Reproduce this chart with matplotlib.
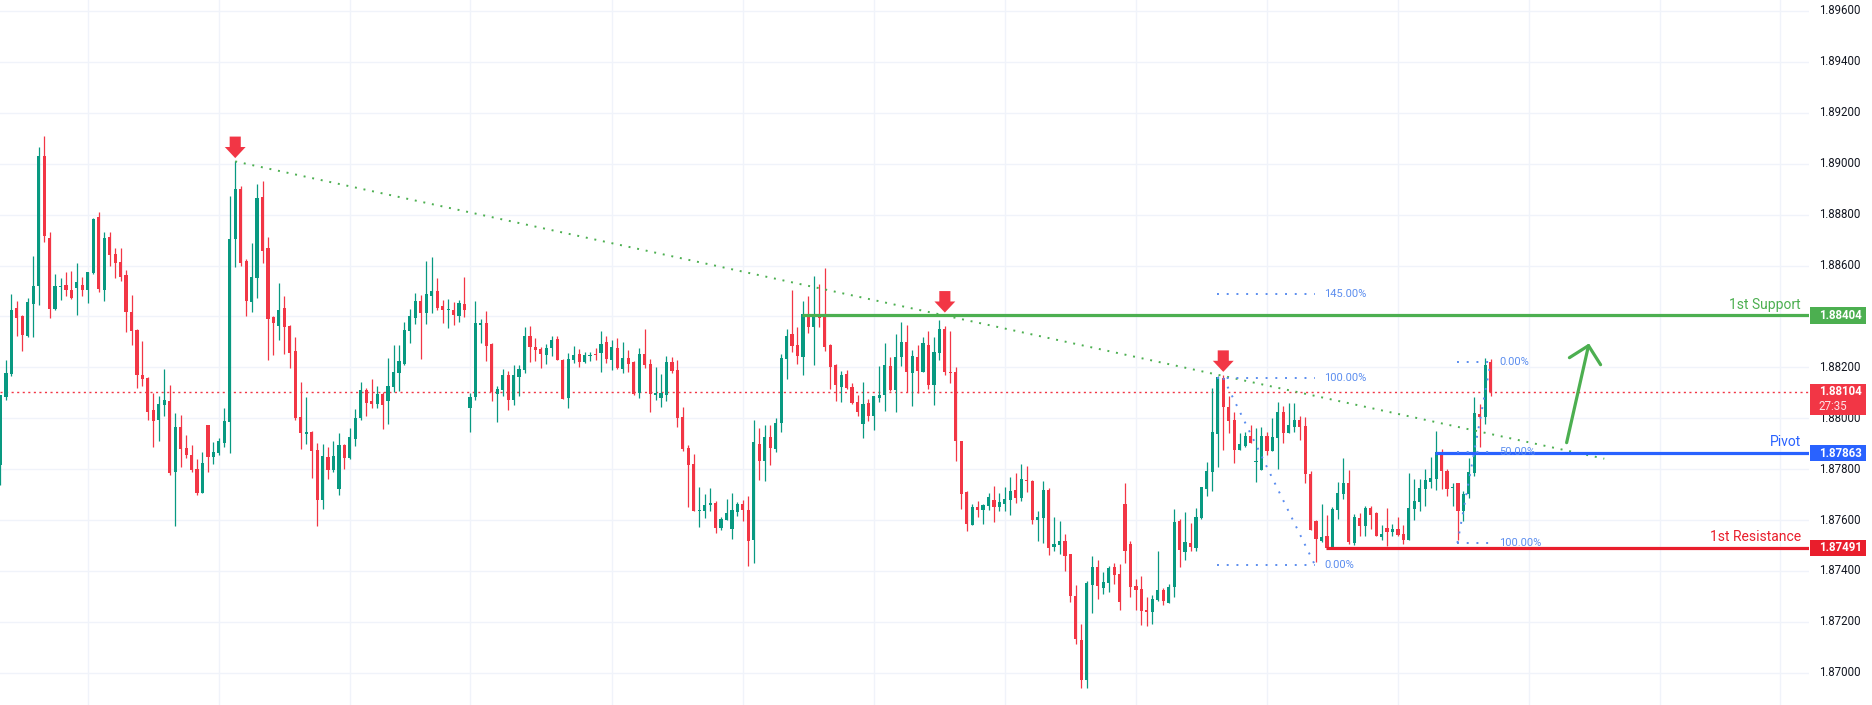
import matplotlib
matplotlib.use('Agg')
import matplotlib.pyplot as plt
from matplotlib.patches import Rectangle
import numpy as np

plt.rcParams['font.family'] = ['Roboto', 'DejaVu Sans']

# hourly candles
opens = [
    1.87815, 1.88083, 1.88172, 1.88435, 1.88400, 1.88324, 1.88448, 1.88518, 1.89032, 1.88710,
    1.88431, 1.88515, 1.88525, 1.88502, 1.88510, 1.88525, 1.88502, 1.88569, 1.88790, 1.88502,
    1.88714, 1.88647, 1.88612, 1.88561, 1.88419, 1.88345, 1.88170, 1.88157, 1.88034, 1.87992,
    1.88051, 1.88067, 1.87788, 1.87967, 1.87882, 1.87855, 1.87800, 1.87705, 1.87975, 1.87847,
    1.87862, 1.87902, 1.87984, 1.88704, 1.88900, 1.88616, 1.88456, 1.88550, 1.88871, 1.88667,
    1.88397, 1.88362, 1.88435, 1.88362, 1.88263, 1.88003, 1.87937, 1.87945, 1.87874, 1.87678,
    1.87847, 1.87796, 1.87721, 1.87894, 1.87843, 1.87918, 1.87999, 1.88110, 1.88067, 1.88055,
    1.88094, 1.88067, 1.88122, 1.88177, 1.88212, 1.88342, 1.88393, 1.88460, 1.88413, 1.88480,
    1.88499, 1.88440, 1.88424, 1.88424, 1.88401, 1.88448, 1.88039, 1.88083, 1.88366, 1.88373,
    1.88291, 1.88094, 1.88110, 1.88169, 1.88071, 1.88161, 1.88189, 1.88322, 1.88279, 1.88271,
    1.88248, 1.88275, 1.88310, 1.88228, 1.88079, 1.88228, 1.88252, 1.88220, 1.88244, 1.88252,
    1.88255, 1.88299, 1.88228, 1.88275, 1.88195, 1.88235, 1.88219, 1.88101, 1.88254, 1.88215,
    1.88093, 1.88081, 1.88093, 1.88219, 1.88191, 1.88004, 1.87882, 1.87819, 1.87635, 1.87635,
    1.87658, 1.87666, 1.87568, 1.87599, 1.87564, 1.87631, 1.87662, 1.87639, 1.87521, 1.87898,
    1.87831, 1.87925, 1.87878, 1.87980, 1.88231, 1.88329, 1.88287, 1.88242, 1.88405, 1.88358,
    1.88405, 1.88397, 1.88287, 1.88211, 1.88124, 1.88172, 1.88121, 1.88062, 1.87976, 1.88058,
    1.88008, 1.88081, 1.88093, 1.88207, 1.88109, 1.88242, 1.88301, 1.88176, 1.88242, 1.88183,
    1.88286, 1.88132, 1.88258, 1.88352, 1.88183, 1.88180, 1.87912, 1.87709, 1.87580, 1.87650,
    1.87639, 1.87654, 1.87678, 1.87650, 1.87662, 1.87678, 1.87717, 1.87686, 1.87756, 1.87752,
    1.87599, 1.87607, 1.87717, 1.87493, 1.87501, 1.87517, 1.87466, 1.87300, 1.87128, 1.86970,
    1.87344, 1.87414, 1.87332, 1.87352, 1.87414, 1.87387, 1.87662, 1.87505, 1.87340, 1.87328,
    1.87245, 1.87238, 1.87285, 1.87324, 1.87273, 1.87336, 1.87595, 1.87473, 1.87509, 1.87489,
    1.87607, 1.87721, 1.87788, 1.87937, 1.88160, 1.88046, 1.87992, 1.87874, 1.87890, 1.87929,
    1.87827, 1.87796, 1.87929, 1.87870, 1.87921, 1.88026, 1.87941, 1.87965, 1.87992, 1.87969,
    1.87780, 1.87595, 1.87517, 1.87536, 1.87489, 1.87639, 1.87701, 1.87747, 1.87509, 1.87607,
    1.87576, 1.87646, 1.87627, 1.87532, 1.87568, 1.87552, 1.87564, 1.87544, 1.87521, 1.87642,
    1.87670, 1.87721, 1.87749, 1.87760, 1.87866, 1.87792, 1.87725, 1.87745, 1.87635, 1.87701,
    1.87784, 1.88016, 1.88004, 1.88220,
]
highs = [
    1.88093, 1.88227, 1.88490, 1.88462, 1.88407, 1.88474, 1.88639, 1.89064, 1.89107, 1.88730,
    1.88565, 1.88549, 1.88573, 1.88580, 1.88608, 1.88553, 1.88573, 1.88786, 1.88812, 1.88730,
    1.88730, 1.88667, 1.88667, 1.88584, 1.88486, 1.88352, 1.88305, 1.88161, 1.88098, 1.88087,
    1.88193, 1.88130, 1.88020, 1.88012, 1.87936, 1.87894, 1.87839, 1.87866, 1.87975, 1.87906,
    1.87921, 1.88039, 1.88875, 1.89009, 1.88911, 1.88624, 1.88690, 1.88920, 1.88931, 1.88711,
    1.88401, 1.88531, 1.88480, 1.88366, 1.88318, 1.88142, 1.88083, 1.87949, 1.87902, 1.87898,
    1.87886, 1.87910, 1.87941, 1.87898, 1.87961, 1.88035, 1.88142, 1.88118, 1.88153, 1.88126,
    1.88102, 1.88236, 1.88287, 1.88287, 1.88377, 1.88428, 1.88491, 1.88483, 1.88617, 1.88633,
    1.88550, 1.88464, 1.88468, 1.88456, 1.88464, 1.88554, 1.88098, 1.88460, 1.88389, 1.88420,
    1.88295, 1.88126, 1.88193, 1.88185, 1.88208, 1.88208, 1.88358, 1.88362, 1.88314, 1.88279,
    1.88291, 1.88322, 1.88322, 1.88232, 1.88255, 1.88283, 1.88271, 1.88259, 1.88259, 1.88275,
    1.88342, 1.88322, 1.88307, 1.88314, 1.88301, 1.88270, 1.88223, 1.88274, 1.88352, 1.88231,
    1.88203, 1.88172, 1.88246, 1.88242, 1.88227, 1.88043, 1.87894, 1.87859, 1.87729, 1.87701,
    1.87725, 1.87674, 1.87611, 1.87682, 1.87705, 1.87670, 1.87678, 1.87694, 1.87992, 1.87961,
    1.87973, 1.87973, 1.88000, 1.88252, 1.88350, 1.88503, 1.88358, 1.88460, 1.88480, 1.88558,
    1.88527, 1.88590, 1.88291, 1.88215, 1.88187, 1.88191, 1.88140, 1.88093, 1.88144, 1.88077,
    1.88089, 1.88207, 1.88294, 1.88242, 1.88329, 1.88380, 1.88368, 1.88270, 1.88286, 1.88321,
    1.88341, 1.88321, 1.88384, 1.88364, 1.88341, 1.88203, 1.87912, 1.87713, 1.87662, 1.87674,
    1.87662, 1.87705, 1.87733, 1.87705, 1.87729, 1.87768, 1.87784, 1.87819, 1.87811, 1.87756,
    1.87635, 1.87752, 1.87725, 1.87611, 1.87595, 1.87544, 1.87466, 1.87344, 1.87190, 1.87359,
    1.87458, 1.87442, 1.87395, 1.87418, 1.87430, 1.87426, 1.87745, 1.87517, 1.87367, 1.87379,
    1.87297, 1.87304, 1.87477, 1.87332, 1.87348, 1.87642, 1.87603, 1.87631, 1.87587, 1.87646,
    1.87729, 1.87827, 1.88118, 1.88165, 1.88169, 1.88089, 1.88026, 1.87941, 1.87945, 1.87973,
    1.87961, 1.87965, 1.87945, 1.88000, 1.88062, 1.88050, 1.88058, 1.88058, 1.88008, 1.88004,
    1.87794, 1.87599, 1.87662, 1.87619, 1.87650, 1.87749, 1.87843, 1.87798, 1.87623, 1.87627,
    1.87654, 1.87654, 1.87631, 1.87580, 1.87646, 1.87584, 1.87611, 1.87580, 1.87784, 1.87760,
    1.87760, 1.87800, 1.87847, 1.87949, 1.87878, 1.87800, 1.87745, 1.87745, 1.87713, 1.87843,
    1.88083, 1.88055, 1.88235, 1.88231,
]
lows = [
    1.87739, 1.88071, 1.88165, 1.88322, 1.88263, 1.88321, 1.88318, 1.88443, 1.88692, 1.88393,
    1.88427, 1.88466, 1.88482, 1.88470, 1.88407, 1.88482, 1.88451, 1.88565, 1.88494, 1.88462,
    1.88600, 1.88549, 1.88541, 1.88338, 1.88287, 1.88118, 1.88126, 1.87992, 1.87886, 1.87910,
    1.88008, 1.87776, 1.87576, 1.87808, 1.87843, 1.87788, 1.87697, 1.87705, 1.87788, 1.87819,
    1.87855, 1.87886, 1.87862, 1.88594, 1.88597, 1.88401, 1.88417, 1.88474, 1.88609, 1.88228,
    1.88248, 1.88307, 1.88252, 1.88197, 1.87995, 1.87878, 1.87898, 1.87764, 1.87576, 1.87642,
    1.87760, 1.87788, 1.87697, 1.87800, 1.87839, 1.87890, 1.87992, 1.88008, 1.88039, 1.88039,
    1.87957, 1.87976, 1.88102, 1.88106, 1.88208, 1.88295, 1.88369, 1.88232, 1.88369, 1.88413,
    1.88424, 1.88373, 1.88354, 1.88366, 1.88377, 1.88397, 1.87945, 1.88071, 1.88295, 1.88224,
    1.88067, 1.87984, 1.88087, 1.88031, 1.88051, 1.88087, 1.88177, 1.88220, 1.88224, 1.88197,
    1.88212, 1.88244, 1.88228, 1.88075, 1.88039, 1.88216, 1.88200, 1.88216, 1.88224, 1.88228,
    1.88181, 1.88216, 1.88189, 1.88193, 1.88176, 1.88180, 1.88093, 1.88081, 1.88199, 1.88024,
    1.88073, 1.88046, 1.88069, 1.88176, 1.87965, 1.87870, 1.87650, 1.87635, 1.87572, 1.87607,
    1.87635, 1.87548, 1.87560, 1.87599, 1.87525, 1.87615, 1.87595, 1.87418, 1.87430, 1.87756,
    1.87752, 1.87815, 1.87866, 1.87945, 1.88153, 1.88262, 1.88215, 1.88168, 1.88333, 1.88211,
    1.88360, 1.88266, 1.88113, 1.88069, 1.88062, 1.88113, 1.88054, 1.88008, 1.87921, 1.87988,
    1.87953, 1.88063, 1.88028, 1.88106, 1.88024, 1.88207, 1.88102, 1.88047, 1.88098, 1.88183,
    1.88113, 1.88051, 1.88227, 1.88168, 1.88140, 1.87831, 1.87642, 1.87556, 1.87580, 1.87611,
    1.87584, 1.87639, 1.87591, 1.87635, 1.87635, 1.87619, 1.87666, 1.87674, 1.87709, 1.87584,
    1.87517, 1.87509, 1.87462, 1.87477, 1.87466, 1.87399, 1.87277, 1.87112, 1.86939, 1.86939,
    1.87234, 1.87289, 1.87308, 1.87316, 1.87348, 1.87245, 1.87430, 1.87297, 1.87245, 1.87187,
    1.87183, 1.87190, 1.87281, 1.87265, 1.87273, 1.87297, 1.87414, 1.87442, 1.87477, 1.87477,
    1.87603, 1.87694, 1.87713, 1.87808, 1.87874, 1.87941, 1.87823, 1.87874, 1.87886, 1.87902,
    1.87749, 1.87796, 1.87855, 1.87870, 1.87800, 1.87902, 1.87941, 1.87945, 1.87914, 1.87745,
    1.87560, 1.87434, 1.87513, 1.87485, 1.87485, 1.87603, 1.87682, 1.87505, 1.87501, 1.87536,
    1.87536, 1.87564, 1.87536, 1.87521, 1.87497, 1.87536, 1.87536, 1.87505, 1.87521, 1.87599,
    1.87635, 1.87654, 1.87725, 1.87717, 1.87721, 1.87694, 1.87654, 1.87521, 1.87595, 1.87686,
    1.87772, 1.87886, 1.87976, 1.88087,
]
closes = [
    1.88093, 1.88176, 1.88427, 1.88393, 1.88326, 1.88455, 1.88521, 1.89032, 1.88715, 1.88431,
    1.88518, 1.88521, 1.88502, 1.88474, 1.88537, 1.88502, 1.88573, 1.88782, 1.88506, 1.88710,
    1.88643, 1.88609, 1.88553, 1.88417, 1.88342, 1.88169, 1.88153, 1.88024, 1.87988, 1.88055,
    1.88071, 1.87784, 1.87967, 1.87878, 1.87855, 1.87796, 1.87705, 1.87823, 1.87847, 1.87866,
    1.87910, 1.87988, 1.88706, 1.88900, 1.88609, 1.88460, 1.88553, 1.88867, 1.88656, 1.88389,
    1.88373, 1.88424, 1.88358, 1.88255, 1.87999, 1.87941, 1.87945, 1.87870, 1.87678, 1.87851,
    1.87796, 1.87851, 1.87894, 1.87843, 1.87925, 1.88000, 1.88110, 1.88059, 1.88055, 1.88094,
    1.88051, 1.88126, 1.88181, 1.88224, 1.88346, 1.88401, 1.88460, 1.88413, 1.88487, 1.88499,
    1.88432, 1.88424, 1.88428, 1.88405, 1.88452, 1.88424, 1.88083, 1.88373, 1.88373, 1.88283,
    1.88102, 1.88114, 1.88169, 1.88071, 1.88169, 1.88193, 1.88322, 1.88279, 1.88267, 1.88252,
    1.88275, 1.88307, 1.88228, 1.88075, 1.88232, 1.88248, 1.88220, 1.88248, 1.88248, 1.88248,
    1.88291, 1.88232, 1.88279, 1.88197, 1.88235, 1.88215, 1.88097, 1.88254, 1.88211, 1.88097,
    1.88101, 1.88101, 1.88219, 1.88187, 1.88000, 1.87878, 1.87815, 1.87635, 1.87639, 1.87658,
    1.87666, 1.87568, 1.87603, 1.87627, 1.87639, 1.87662, 1.87639, 1.87517, 1.87906, 1.87831,
    1.87925, 1.87882, 1.87980, 1.88238, 1.88322, 1.88283, 1.88246, 1.88409, 1.88358, 1.88405,
    1.88393, 1.88279, 1.88203, 1.88132, 1.88168, 1.88117, 1.88058, 1.88026, 1.88054, 1.88008,
    1.88089, 1.88093, 1.88211, 1.88109, 1.88242, 1.88301, 1.88183, 1.88246, 1.88187, 1.88297,
    1.88132, 1.88262, 1.88352, 1.88180, 1.88176, 1.87912, 1.87701, 1.87584, 1.87650, 1.87639,
    1.87658, 1.87690, 1.87650, 1.87670, 1.87682, 1.87713, 1.87686, 1.87760, 1.87752, 1.87599,
    1.87611, 1.87717, 1.87489, 1.87505, 1.87517, 1.87458, 1.87300, 1.87132, 1.86970, 1.87352,
    1.87414, 1.87340, 1.87356, 1.87411, 1.87383, 1.87277, 1.87477, 1.87336, 1.87324, 1.87242,
    1.87238, 1.87289, 1.87324, 1.87281, 1.87336, 1.87591, 1.87481, 1.87513, 1.87493, 1.87611,
    1.87729, 1.87792, 1.87945, 1.88161, 1.88043, 1.87988, 1.87874, 1.87897, 1.87929, 1.87902,
    1.87831, 1.87929, 1.87870, 1.87925, 1.88026, 1.87941, 1.87973, 1.87992, 1.87965, 1.87780,
    1.87560, 1.87525, 1.87532, 1.87489, 1.87642, 1.87705, 1.87747, 1.87513, 1.87611, 1.87576,
    1.87646, 1.87619, 1.87536, 1.87544, 1.87552, 1.87564, 1.87540, 1.87521, 1.87646, 1.87674,
    1.87725, 1.87756, 1.87764, 1.87866, 1.87792, 1.87721, 1.87729, 1.87635, 1.87701, 1.87788,
    1.88020, 1.88004, 1.88208, 1.88104,
]

support = 1.88404
pivot = 1.87863
resistance = 1.87491
last_price = 1.88104
countdown = '27:35'

price_ticks = [1.870, 1.872, 1.874, 1.876, 1.878, 1.880, 1.882, 1.884,
               1.886, 1.888, 1.890, 1.892, 1.894, 1.896]
day_lines = [16, 40, 64, 86, 112, 136, 160, 184, 208, 232, 256, 280, 304, 326]

# fib drawings (low, high and the levels shown)
fib1_low, fib1_high = 1.87423, 1.88158
fib1_levels = [0.0, 1.0, 1.45]
fib2_high, fib2_low = 1.88222, 1.87510
fib2_levels = [0.0, 0.5, 1.0]

GREEN = '#089981'
RED = '#f23645'
SUP = '#4caf50'
PIV = '#2962ff'
RES = '#e91e2c'
FIB = '#5b8def'
GRID = '#f0f3fa'
TXT = '#131722'

W, H = 1872, 705
PLOT_W = 1809
fig = plt.figure(figsize=(W / 100, H / 100), dpi=100)
fig.patch.set_facecolor('white')
ax = fig.add_axes([0, 0, PLOT_W / W, 1])
xmax = 331.3
ax.set_xlim(-0.09, xmax)
ax.set_ylim(1.868733, 1.896432)
for s in ax.spines.values():
    s.set_visible(False)
ax.set_xticks([])
ax.set_yticks([])
px = (1.896432 - 1.868733) / H   # price per pixel

for p in price_ticks:
    ax.axhline(p, color=GRID, lw=1, zorder=0)
for d in day_lines:
    ax.axvline(d, color=GRID, lw=1, zorder=0)

o = np.array(opens)
h = np.array(highs)
l = np.array(lows)
c = np.array(closes)
x = np.arange(len(o))
col = np.where(c >= o, GREEN, RED)

ax.axhline(last_price, color=RED, lw=1, ls=(0, (1.5, 2.5)), zorder=1)

ax.vlines(x, l, h, colors=col, lw=0.9, zorder=2)
ax.bar(x, np.maximum(np.abs(c - o), px * 1.2), bottom=np.minimum(o, c),
       width=0.58, color=col, lw=0, zorder=3)

# descending trendline from the swing high
ax.plot([43, 293.8], [highs[43], 1.87841], color=SUP, lw=1.4,
        ls=(0, (1, 3.5)), zorder=4)

# horizontal levels
ax.hlines(support, 146.9, xmax, color=SUP, lw=2.3, zorder=4)
ax.hlines(pivot, 262.8, xmax, color=PIV, lw=2.3, zorder=4)
ax.hlines(resistance, 242.9, xmax, color=RES, lw=2.3, zorder=4)

yax = ax.get_yaxis_transform()
for txt, lvl, cc in [('1st Support', support, SUP), ('Pivot', pivot, PIV),
                     ('1st Resistance', resistance, RES)]:
    ax.annotate(txt, xy=(1801 / PLOT_W, lvl), xycoords=yax, xytext=(0, 4.8),
                textcoords='offset points', ha='right', va='baseline',
                color=cc, fontsize=10, zorder=6)

# fib drawing 1
span1 = fib1_high - fib1_low
for lv in fib1_levels:
    y = fib1_low + lv * span1
    ax.hlines(y, 222.9, 240.8, color=FIB, lw=1.4, ls=(0, (1, 4)), zorder=4)
    ax.text(242.5, y, f'{lv * 100:.2f}%', color=FIB, fontsize=8,
            ha='left', va='center', zorder=6)
ax.plot([224, 240.8], [fib1_high, fib1_low], color=FIB, lw=1.4,
        ls=(0, (1, 4)), zorder=4)

# fib drawing 2
span2 = fib2_high - fib2_low
for lv in fib2_levels:
    y = fib2_high - lv * span2
    ax.hlines(y, 266.9, 273.0, color=FIB, lw=1.4, ls=(0, (1, 4)), zorder=4)
    ax.text(274.5, y, f'{lv * 100:.2f}%', color=FIB, fontsize=8,
            ha='left', va='center', zorder=6)
ax.plot([266.9, 273.0], [fib2_low, fib2_high], color=FIB, lw=1.4,
        ls=(0, (1, 4)), zorder=4)

# red down arrows at the touches
for idx, tip in [(43, 1.89022), (173, 1.88415), (224, 1.88182)]:
    ax.annotate('', xy=(idx, tip), xytext=(0, 15.5), textcoords='offset points',
                arrowprops=dict(arrowstyle='simple,head_length=0.8,head_width=1.5,tail_width=0.8',
                                color=RED, lw=0, shrinkA=0, shrinkB=0, mutation_scale=10),
                zorder=7)

# projected move
ax.annotate('', xy=(291.0, 1.88294), xytext=(286.9, 1.87904),
            arrowprops=dict(arrowstyle='->,head_length=1.15,head_width=1.15',
                            color=SUP, lw=2.3, shrinkA=0, shrinkB=0, mutation_scale=10),
            zorder=7)

# price scale
lab_x = 1818.7 / PLOT_W
for p in price_ticks:
    ax.text(lab_x, p, f'{p:.5f}', transform=yax, ha='left', va='center',
            fontsize=8.3, color=TXT, clip_on=False, zorder=5)

box_x = 1810 / PLOT_W
box_w = 56 / PLOT_W
for lvl, cc in [(support, SUP), (pivot, PIV), (resistance, RES)]:
    ax.add_patch(Rectangle((box_x, lvl - 8.2 * px), box_w, 16.4 * px, transform=yax,
                           facecolor=cc, edgecolor='none', clip_on=False, zorder=8))
    ax.text(lab_x, lvl, f'{lvl:.5f}', transform=yax, ha='left', va='center',
            fontsize=8.3, color='white', fontweight='bold', clip_on=False, zorder=9)

ax.add_patch(Rectangle((box_x, last_price - 22.9 * px), box_w, 30.7 * px, transform=yax,
                       facecolor=RED, edgecolor='none', clip_on=False, zorder=8))
ax.text(lab_x, last_price, f'{last_price:.5f}', transform=yax, ha='left', va='center',
        fontsize=8.3, color='white', fontweight='bold', clip_on=False, zorder=9)
ax.text(lab_x, last_price - 14.5 * px, countdown, transform=yax, ha='left', va='center',
        fontsize=8.3, color='#fde3e6', clip_on=False, zorder=9)

fig.savefig('out.png', dpi=100, facecolor='white')
